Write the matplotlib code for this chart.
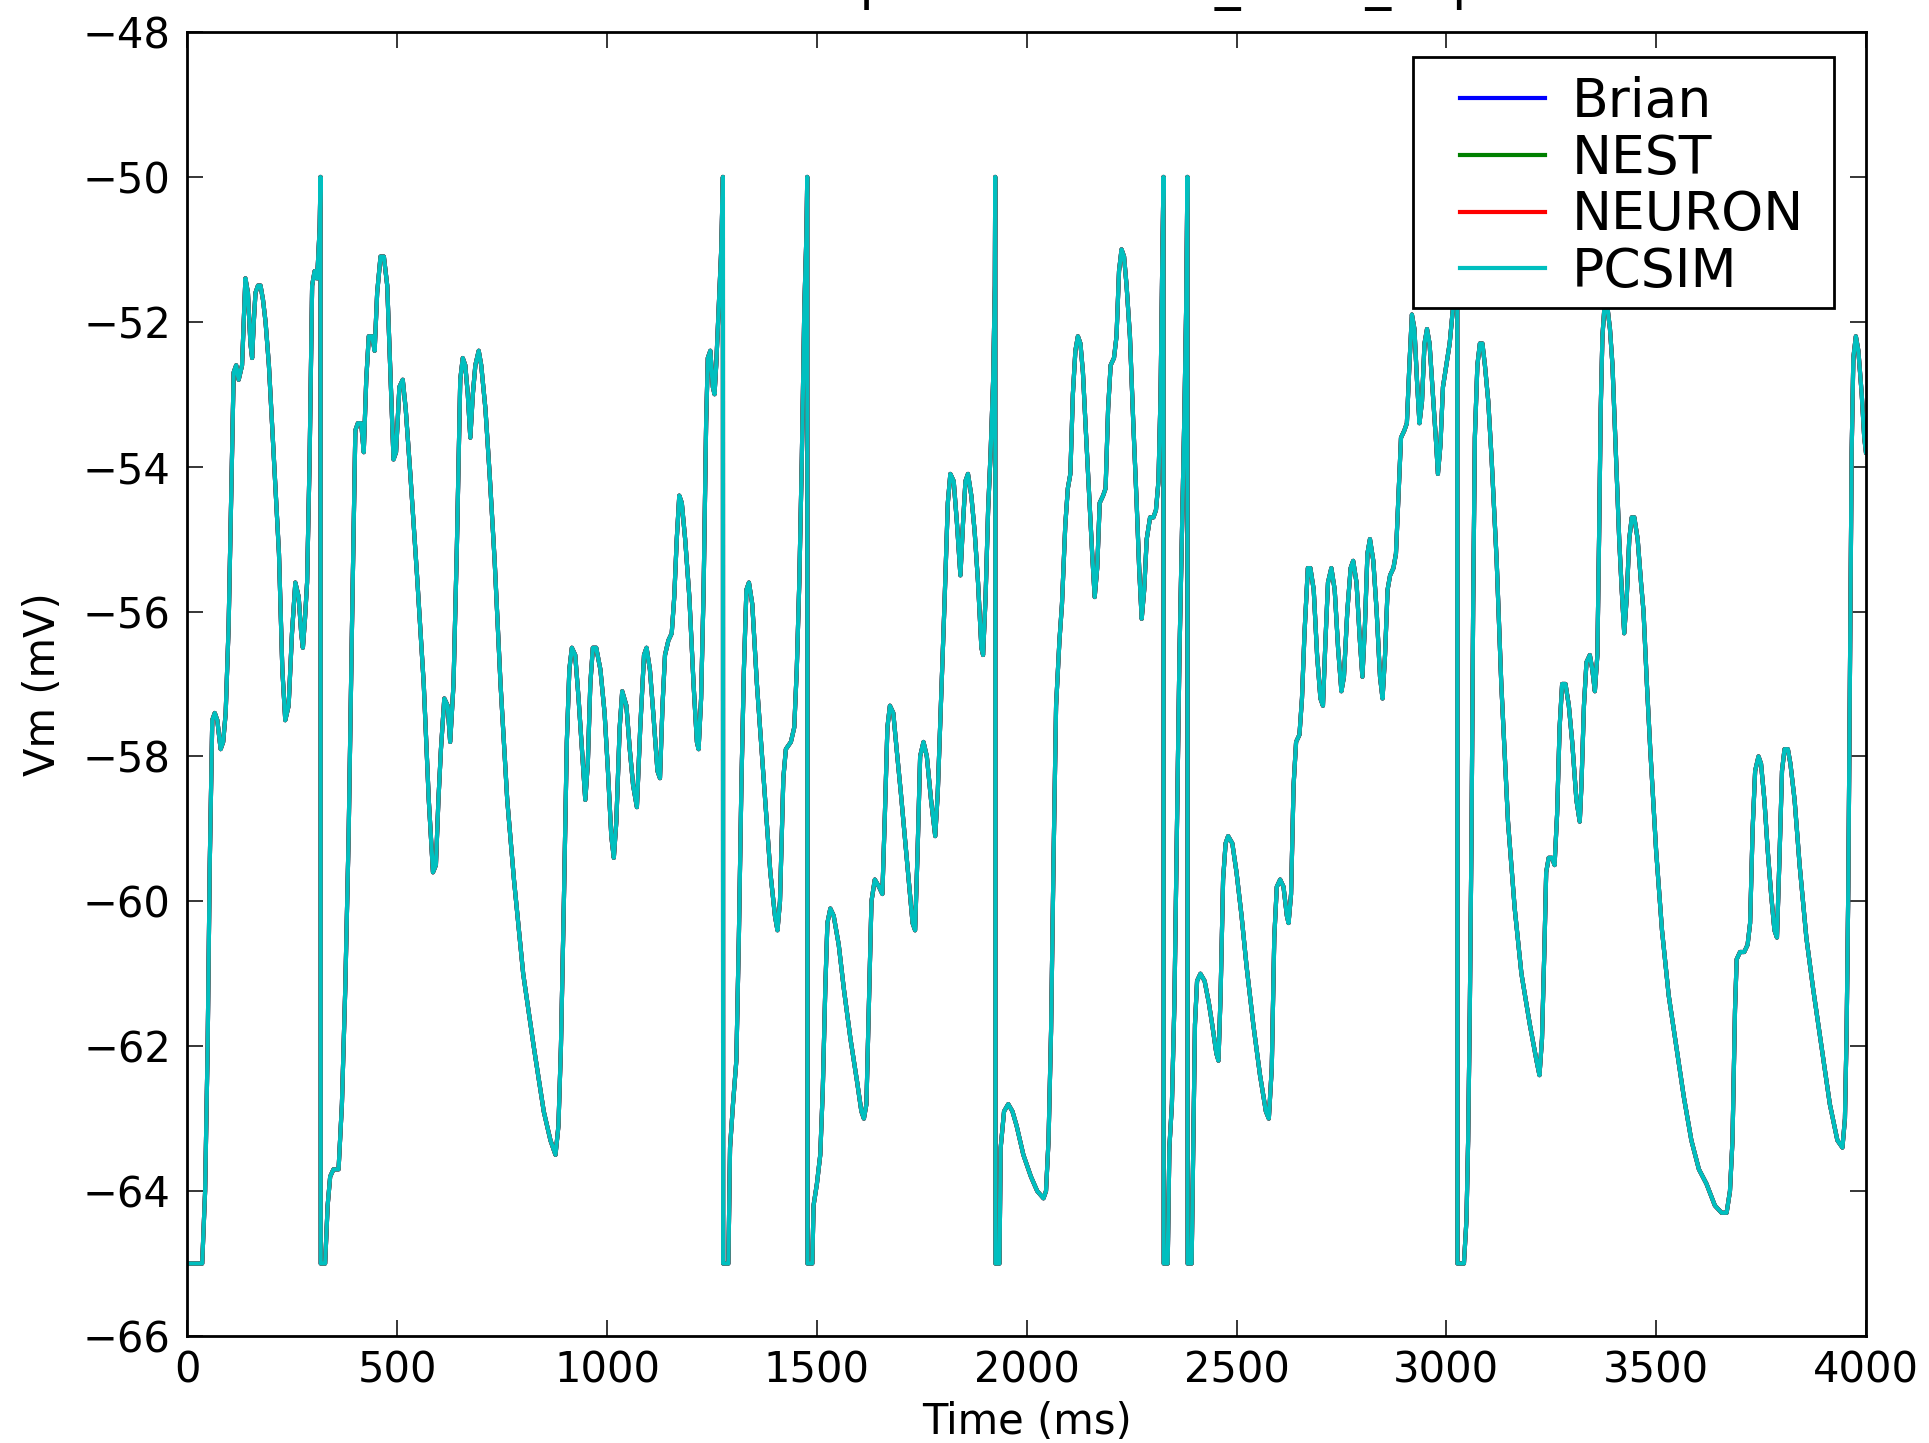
"""Membrane potential of one IF_cond_exp cell as simulated by four backends.

The four traces overlap almost exactly, so they share the same samples read
off the reference figure; PCSIM is drawn last and sits on top.
"""
import matplotlib

matplotlib.use("Agg")
import matplotlib.pyplot as plt
from matplotlib.patches import Rectangle

# time (ms) and membrane potential (mV); spikes go up to -50 and reset to -65
t_ms = [
    0, 35, 42, 48, 53, 59, 65, 71, 79, 85, 91, 98, 106, 110, 116, 122, 130,
    134, 138, 144, 150, 154, 158, 162, 168, 174, 180, 186, 194, 206, 218, 226,
    233, 241, 249, 257, 265, 271, 275, 280, 285, 291, 297, 303, 309, 315, 317,
    317.5, 328, 334, 340, 348, 360, 368, 376, 384, 392, 400, 406, 414, 420,
    426, 432, 440, 446, 452, 460, 468, 476, 484, 491, 497, 505, 513, 520, 531,
    547, 563, 575, 585, 592, 598, 604, 612, 620, 626, 634, 642, 650, 656, 662,
    668, 674, 680, 686, 694, 700, 710, 720, 732, 746, 762, 778, 800, 825, 849,
    865, 877, 884, 890, 897, 904, 910, 916, 924, 932, 940, 948, 954, 960, 966,
    974, 984, 994, 1002, 1010, 1016, 1022, 1030, 1036, 1046, 1054, 1062, 1071,
    1079, 1088, 1094, 1102, 1110, 1120, 1126, 1132, 1138, 1146, 1154, 1160,
    1166, 1172, 1178, 1186, 1196, 1206, 1214, 1218, 1224, 1230, 1236, 1240,
    1246, 1252, 1256, 1260, 1266, 1272, 1276, 1276.5, 1289, 1293, 1300, 1308,
    1314, 1320, 1326, 1332, 1338, 1346, 1357, 1373, 1389, 1400, 1406, 1412,
    1420, 1426, 1438, 1446, 1452, 1458, 1464, 1470, 1475, 1477, 1477.5, 1489,
    1492, 1500, 1508, 1514, 1520, 1525, 1532, 1540, 1552, 1564, 1580, 1596,
    1606, 1612, 1618, 1624, 1630, 1638, 1648, 1656, 1662, 1668, 1674, 1682,
    1690, 1700, 1714, 1728, 1734, 1740, 1746, 1754, 1762, 1772, 1782, 1788,
    1796, 1804, 1812, 1818, 1826, 1834, 1842, 1848, 1854, 1860, 1868, 1876,
    1884, 1892, 1896, 1902, 1908, 1914, 1920, 1924, 1925, 1925.5, 1935, 1938,
    1946, 1956, 1966, 1976, 1992, 2010, 2025, 2040, 2046, 2052, 2058, 2064,
    2070, 2078, 2084, 2092, 2098, 2104, 2110, 2116, 2122, 2128, 2134, 2140,
    2148, 2156, 2162, 2168, 2174, 2182, 2188, 2194, 2200, 2208, 2214, 2220,
    2226, 2232, 2238, 2246, 2254, 2262, 2268, 2274, 2280, 2286, 2294, 2302,
    2308, 2314, 2319, 2323, 2326, 2326.5, 2336, 2340, 2346, 2352, 2358, 2364,
    2370, 2376, 2380, 2383, 2383.5, 2393, 2397, 2401, 2406, 2414, 2424, 2434,
    2442, 2452, 2457, 2462, 2468, 2474, 2480, 2490, 2500, 2512, 2524, 2540,
    2556, 2570, 2577, 2584, 2590, 2596, 2604, 2612, 2620, 2624, 2630, 2636,
    2642, 2650, 2656, 2662, 2670, 2676, 2684, 2692, 2700, 2706, 2712, 2718,
    2726, 2734, 2742, 2750, 2756, 2764, 2772, 2778, 2786, 2794, 2800, 2806,
    2812, 2818, 2826, 2834, 2842, 2848, 2854, 2860, 2866, 2874, 2880, 2886,
    2892, 2900, 2906, 2912, 2918, 2924, 2930, 2936, 2942, 2948, 2954, 2960,
    2968, 2976, 2980, 2986, 2992, 3000, 3008, 3016, 3022, 3026, 3026.5, 3042,
    3048, 3052, 3056, 3060, 3064, 3068, 3074, 3080, 3086, 3092, 3100, 3108,
    3120, 3131, 3147, 3163, 3179, 3199, 3215, 3222, 3228, 3234, 3238, 3244,
    3252, 3258, 3264, 3270, 3276, 3284, 3292, 3300, 3310, 3318, 3322, 3328,
    3334, 3342, 3348, 3354, 3360, 3364, 3368, 3372, 3378, 3384, 3390, 3396,
    3404, 3412, 3418, 3424, 3430, 3436, 3442, 3448, 3456, 3464, 3470, 3478,
    3486, 3500, 3514, 3530, 3548, 3566, 3584, 3602, 3620, 3640, 3656, 3668,
    3676, 3682, 3688, 3692, 3700, 3710, 3718, 3724, 3730, 3736, 3744, 3750,
    3758, 3766, 3774, 3782, 3788, 3794, 3800, 3806, 3814, 3820, 3830, 3842,
    3858, 3874, 3894, 3914, 3932, 3944, 3950, 3954, 3958, 3962, 3966, 3970,
    3976, 3982, 3990, 3996, 4000,
]
vm_mv = [
    -65.0, -65.0, -64.0, -62.0, -59.5, -57.5, -57.4, -57.5, -57.9, -57.8,
    -57.4, -56.2, -53.9, -52.7, -52.6, -52.8, -52.6, -52.0, -51.4, -51.6,
    -52.3, -52.5, -52.0, -51.6, -51.5, -51.5, -51.7, -52.0, -52.6, -53.9,
    -55.2, -56.8, -57.5, -57.3, -56.3, -55.6, -55.8, -56.3, -56.5, -56.1,
    -55.6, -53.9, -51.5, -51.3, -51.4, -50.7, -50.0,
    -65.0, -65.0, -64.2, -63.8, -63.7, -63.7, -62.8, -61.2, -59.1, -56.2,
    -53.5, -53.4, -53.4, -53.8, -52.8, -52.2, -52.2, -52.4, -51.6, -51.1,
    -51.1, -51.5, -52.8, -53.9, -53.8, -52.9, -52.8, -53.2, -54.1, -55.5,
    -57.0, -58.6, -59.6, -59.5, -58.6, -57.9, -57.2, -57.3, -57.8, -57.0,
    -55.1, -52.8, -52.5, -52.6, -53.0, -53.6, -53.0, -52.6, -52.4, -52.6,
    -53.2, -54.1, -55.3, -57.0, -58.6, -59.7, -61.0, -62.0, -62.9, -63.3,
    -63.5, -63.1, -62.0, -60.0, -57.8, -56.8, -56.5, -56.6, -57.2, -57.9,
    -58.6, -58.1, -57.0, -56.5, -56.5, -56.8, -57.4, -58.2, -59.1, -59.4,
    -58.9, -57.6, -57.1, -57.3, -57.9, -58.4, -58.7, -57.6, -56.6, -56.5,
    -56.8, -57.4, -58.2, -58.3, -57.3, -56.6, -56.4, -56.3, -55.8, -55.0,
    -54.4, -54.5, -55.0, -55.8, -57.0, -57.8, -57.9, -57.2, -55.7, -53.4,
    -52.5, -52.4, -52.9, -53.0, -52.6, -51.8, -51.0, -50.0,
    -65.0, -65.0, -63.4, -62.8, -62.2, -60.5, -58.4, -56.8, -55.7, -55.6,
    -55.9, -57.0, -58.3, -59.6, -60.2, -60.4, -60.0, -58.3, -57.9, -57.8,
    -57.6, -56.8, -55.6, -53.9, -51.8, -50.8, -50.0,
    -65.0, -65.0, -64.2, -63.9, -63.5, -62.6, -61.2, -60.3, -60.1, -60.2,
    -60.6, -61.2, -61.9, -62.5, -62.9, -63.0, -62.8, -61.4, -60.0, -59.7,
    -59.8, -59.9, -58.8, -57.6, -57.3, -57.4, -57.9, -58.5, -59.4, -60.3,
    -60.4, -59.3, -58.0, -57.8, -58.0, -58.6, -59.1, -58.5, -57.2, -55.9,
    -54.5, -54.1, -54.2, -54.8, -55.5, -54.8, -54.2, -54.1, -54.4, -54.9,
    -55.6, -56.5, -56.6, -55.8, -54.6, -53.8, -52.8, -51.5, -50.0,
    -65.0, -65.0, -63.4, -62.9, -62.8, -62.9, -63.1, -63.5, -63.8, -64.0,
    -64.1, -64.0, -63.3, -61.8, -59.4, -57.3, -56.4, -55.9, -54.8, -54.3,
    -54.1, -53.0, -52.4, -52.2, -52.3, -52.7, -53.4, -54.3, -55.2, -55.8,
    -55.4, -54.5, -54.4, -54.3, -53.2, -52.6, -52.5, -52.2, -51.3, -51.0,
    -51.1, -51.5, -52.2, -53.4, -54.5, -55.4, -56.1, -55.7, -55.0, -54.7,
    -54.7, -54.6, -54.2, -53.0, -51.2, -50.0,
    -65.0, -65.0, -63.4, -62.8, -61.4, -59.0, -56.6, -54.9, -53.2, -51.8,
    -50.0,
    -65.0, -65.0, -63.3, -61.7, -61.1, -61.0, -61.1, -61.4, -61.7, -62.1,
    -62.2, -61.3, -59.7, -59.2, -59.1, -59.2, -59.6, -60.2, -60.9, -61.7,
    -62.4, -62.9, -63.0, -62.3, -60.5, -59.8, -59.7, -59.8, -60.2, -60.3,
    -59.9, -58.4, -57.8, -57.7, -57.2, -56.3, -55.4, -55.4, -55.7, -56.6,
    -57.2, -57.3, -56.4, -55.6, -55.4, -55.7, -56.5, -57.1, -56.9, -56.0,
    -55.4, -55.3, -55.6, -56.4, -56.9, -56.2, -55.2, -55.0, -55.3, -56.0,
    -56.9, -57.2, -56.6, -55.7, -55.5, -55.4, -55.2, -54.4, -53.6, -53.5,
    -53.4, -52.6, -51.9, -52.1, -52.8, -53.4, -53.1, -52.3, -52.1, -52.3,
    -53.0, -53.7, -54.1, -53.7, -52.9, -52.6, -52.3, -51.8, -51.0, -50.0,
    -65.0, -65.0, -64.4, -63.3, -61.5, -59.1, -55.9, -53.6, -52.6, -52.3,
    -52.3, -52.6, -53.1, -53.9, -55.3, -57.0, -58.9, -60.1, -61.0, -61.7,
    -62.2, -62.4, -61.9, -60.6, -59.6, -59.4, -59.4, -59.5, -58.8, -57.6,
    -57.0, -57.0, -57.3, -57.8, -58.6, -58.9, -58.4, -57.3, -56.7, -56.6,
    -56.8, -57.1, -56.6, -55.0, -53.2, -52.2, -51.7, -51.8, -52.1, -52.6,
    -53.8, -55.0, -55.7, -56.3, -55.8, -55.0, -54.7, -54.7, -55.0, -55.6,
    -56.0, -57.0, -57.9, -59.3, -60.4, -61.3, -62.0, -62.7, -63.3, -63.7,
    -63.9, -64.2, -64.3, -64.3, -64.0, -63.3, -61.5, -60.8, -60.7, -60.7,
    -60.6, -60.3, -59.0, -58.2, -58.0, -58.1, -58.6, -59.3, -59.9, -60.4,
    -60.5, -59.4, -58.2, -57.9, -57.9, -58.1, -58.6, -59.5, -60.5, -61.2,
    -62.0, -62.8, -63.3, -63.4, -63.0, -61.8, -59.8, -56.8, -53.8, -52.5,
    -52.2, -52.4, -53.0, -53.6, -53.8,
]

simulators = ["Brian", "NEST", "NEURON", "PCSIM"]
# classic matplotlib single-letter colours b, g, r, c
sim_colors = ["#0000ff", "#008000", "#ff0000", "#00bfbf"]

x_ticks = [0, 500, 1000, 1500, 2000, 2500, 3000, 3500, 4000]
y_ticks = [-66, -64, -62, -60, -58, -56, -54, -52, -50, -48]

plt.rcParams["font.family"] = "DejaVu Sans"

fig = plt.figure(figsize=(19.29, 14.43), dpi=100)
ax = fig.add_axes([0.0972, 0.0742, 0.8701, 0.9036])

lines = []
for name, color in zip(simulators, sim_colors):
    (ln,) = ax.plot(t_ms, vm_mv, color=color, lw=3.0, label=name)
    lines.append(ln)

ax.set_xlim(0, 4000)
ax.set_ylim(-66, -48)
ax.set_xticks(x_ticks)
ax.set_yticks(y_ticks)
ax.tick_params(direction="in", length=11.5, width=1.1, top=True, right=True,
               labelsize=30)
ax.tick_params(axis="x", pad=10)
ax.tick_params(axis="y", pad=12)
for sp in ax.spines.values():
    sp.set_linewidth(2.0)

ax.set_xlabel("Time (ms)", fontsize=30)
ax.set_ylabel("Vm (mV)", fontsize=30)
ax.xaxis.set_label_coords(0.5, -0.0498)
ax.yaxis.set_label_coords(-0.0736, 0.5)

# title sits mostly above the (cropped) figure edge, as in the original
ax.set_title("Membrane potential of IF_cond_exp", fontsize=37, pad=23.8)

# legend box drawn separately so its padding matches the original
ax.add_patch(Rectangle((0.7299, 0.7885), 0.2513, 0.1923, transform=ax.transAxes,
                       facecolor="white", edgecolor="black", lw=2.0, zorder=4))
ax.legend(handles=lines, loc="upper left", bbox_to_anchor=(0.7579, 0.9665),
          frameon=False, fontsize=38.5, borderpad=0, borderaxespad=0,
          handlelength=1.6, handletextpad=0.5, labelspacing=0.09)

fig.savefig("out.png", dpi=100)
